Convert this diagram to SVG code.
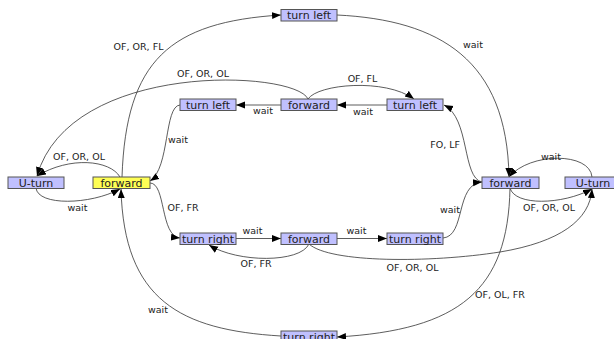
<svg xmlns="http://www.w3.org/2000/svg" width="614" height="339" viewBox="0 0 614 339">
<style>
.n rect{fill:#c0c0ff;stroke:#555;stroke-width:1}
.n.y rect{fill:#ffff55}
.n text{font-family:"DejaVu Sans",sans-serif;font-size:11px;fill:#222;text-anchor:middle}
.e path{fill:none;stroke:#333;stroke-width:0.8;marker-end:url(#a)}
.l{font-family:"DejaVu Sans",sans-serif;font-size:9.5px;fill:#222;text-anchor:middle}
</style>
<defs>
<marker id="a" markerUnits="userSpaceOnUse" markerWidth="10" markerHeight="8" refX="9" refY="3.5" orient="auto">
<path d="M0,0 L9,3.5 L0,7 z" fill="#000"/>
</marker>
</defs>
<rect width="614" height="339" fill="#fff"/>
<g id="edges" class="e">
<path d="M122,177 C126,60 170,22 281,15"/>
<path d="M337,15 C440,20 507,60 509,177"/>
<path d="M308,99 C295,70 70,60 37,176"/>
<path d="M120,177 C110,160 70,156 37,176"/>
<path d="M308,99 C318,84 385,78 414,99"/>
<path d="M387,105 L337,105"/>
<path d="M281,105 L236,105"/>
<path d="M180,105 C164,106 170,168 150,181"/>
<path d="M150,183 C166,183 160,236 180,238"/>
<path d="M236,238.5 L281,238.5"/>
<path d="M337,238.5 L387,238.5"/>
<path d="M309,244 C300,263 238,263 209,245"/>
<path d="M309,244 C330,263 430,263 500,252 C560,242 590,220 592,189"/>
<path d="M443,238 C466,236 455,184 482,182"/>
<path d="M482,182 C462,178 470,118 444,105"/>
<path d="M510,188 C508,290 460,330 337,337"/>
<path d="M281,336 C180,330 124,300 121,189"/>
<path d="M36,188 C38,206 90,205 120,189"/>
<path d="M510,188 C515,206 562,205 592,189"/>
<path d="M592,177 C590,152 530,152 509,177"/>
</g>
<g id="labels">
<text class="l" x="138.5" y="50">OF, OR, FL</text>
<text class="l" x="473" y="48">wait</text>
<text class="l" x="203" y="77">OF, OR, OL</text>
<text class="l" x="79" y="160">OF, OR, OL</text>
<text class="l" x="362.5" y="82">OF, FL</text>
<text class="l" x="363" y="115">wait</text>
<text class="l" x="263" y="114">wait</text>
<text class="l" x="178" y="143">wait</text>
<text class="l" x="183" y="211">OF, FR</text>
<text class="l" x="252.5" y="234">wait</text>
<text class="l" x="356.5" y="234">wait</text>
<text class="l" x="256" y="267">OF, FR</text>
<text class="l" x="412.5" y="271">OF, OR, OL</text>
<text class="l" x="450" y="213">wait</text>
<text class="l" x="460" y="148" style="text-anchor:end">FO, LF</text>
<text class="l" x="500" y="298">OF, OL, FR</text>
<text class="l" x="158" y="313">wait</text>
<text class="l" x="77.5" y="211">wait</text>
<text class="l" x="549" y="211">OF, OR, OL</text>
<text class="l" x="551" y="160">wait</text>
</g>
<g id="n_turnleft_top" class="n"><rect x="281" y="9.5" width="56" height="11.5"/><text x="309" y="19">turn left</text></g>
<g id="n_forward_mid" class="n"><rect x="281" y="99" width="56" height="11.5"/><text x="309" y="108.5">forward</text></g>
<g id="n_turnleft_left" class="n"><rect x="180" y="99" width="56" height="11.5"/><text x="208" y="108.5">turn left</text></g>
<g id="n_turnleft_right" class="n"><rect x="387" y="99" width="56" height="11.5"/><text x="415" y="108.5">turn left</text></g>
<g id="n_uturn_left" class="n"><rect x="8" y="177" width="56" height="11.5"/><text x="36" y="186.5">U-turn</text></g>
<g id="n_forward_start" class="n y"><rect x="93" y="177" width="57" height="11.5"/><text x="121.5" y="186.5">forward</text></g>
<g id="n_turnright_left" class="n"><rect x="180" y="233" width="56" height="11.5"/><text x="208" y="242.5">turn right</text></g>
<g id="n_forward_bot" class="n"><rect x="281" y="233" width="56" height="11.5"/><text x="309" y="242.5">forward</text></g>
<g id="n_turnright_right" class="n"><rect x="387" y="233" width="56" height="11.5"/><text x="415" y="242.5">turn right</text></g>
<g id="n_forward_right" class="n"><rect x="482" y="177" width="57" height="11.5"/><text x="510.5" y="186.5">forward</text></g>
<g id="n_uturn_right" class="n"><rect x="565" y="177" width="56" height="11.5"/><text x="593" y="186.5">U-turn</text></g>
<g id="n_turnright_bot" class="n"><rect x="281" y="331" width="56" height="11.5"/><text x="309" y="340.5">turn right</text></g>
</svg>
